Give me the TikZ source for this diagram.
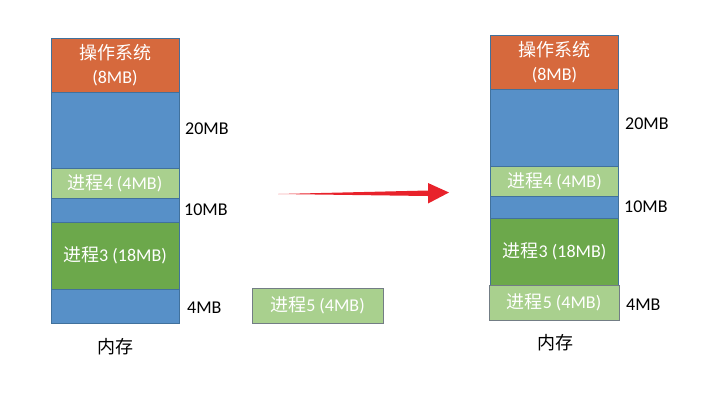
\documentclass[tikz,border=0pt]{standalone}
\usepackage{fontspec}
\setmainfont{Carlito}
\newfontfamily\cjk{Noto Sans CJK SC}
\newcommand{\zh}[1]{{\cjk #1}}
\usetikzlibrary{positioning}
\definecolor{osorange}{HTML}{D6693D}
\definecolor{freeblue}{HTML}{5790C8}
\definecolor{proclight}{HTML}{A9D08E}
\definecolor{procdark}{HTML}{6CA84B}
\definecolor{edgeblue}{HTML}{41719C}
\definecolor{arrowred}{HTML}{E8222B}
\tikzset{
  block/.style={draw=edgeblue, line width=0.8bp, inner sep=0pt, minimum width=128bp,
    text=white, align=center, font=\fontsize{18bp}{24bp}\selectfont},
  sizelabel/.style={anchor=west, inner sep=0pt, font=\fontsize{18bp}{22bp}\selectfont},
}
\begin{document}
\begin{tikzpicture}[x=1bp, y=-1bp]
  \useasboundingbox (0,0) rectangle (706,402);
  % Left memory
  \node[block, fill=osorange, minimum height=54bp] (os) at (115,65) {\zh{操作系统}\\(8MB)};
  \node[block, fill=freeblue, minimum height=76bp] (free1) at (115,130) {};
  \node[block, fill=proclight, minimum height=30bp] (p4) at (115,183) {\zh{进程}4 (4MB)};
  \node[block, fill=freeblue, minimum height=24bp] (free2) at (115,210) {};
  \node[block, fill=procdark, minimum height=67bp] (p3) at (115,255.5) {\zh{进程}3 (18MB)};
  \node[block, fill=freeblue, minimum height=34bp] (free3) at (115,306) {};
  \node[sizelabel] (l20) at (185,129) {20MB};
  \node[sizelabel] (l10) at (184,210) {10MB};
  \node[sizelabel] (l4) at (187,308) {4MB};
  \node[font=\fontsize{18bp}{22bp}\selectfont] (mem) at (115,347) {\zh{内存}};
  % Waiting process
  \node[block, draw=gray!80!edgeblue, fill=proclight, minimum width=131bp, minimum height=35bp] (p5) at (317.5,305.5) {\zh{进程}5 (4MB)};
  % Arrow
  \coordinate (atail) at (278,194);
  \coordinate (ahead) at (449,192.5);
  \fill[arrowred] (atail) -- ([shift={(150,-3.5)}]atail) -- ([shift={(150,-11)}]atail)
    -- (ahead) -- ([shift={(150,9.5)}]atail) -- ([shift={(150,2)}]atail) -- cycle;
  % Right memory
  \node[block, fill=osorange, minimum height=54bp] (osR) at (554.5,62) {\zh{操作系统}\\(8MB)};
  \node[block, fill=freeblue, minimum height=77bp] (free1R) at (554.5,127.5) {};
  \node[block, fill=proclight, minimum height=30bp] (p4R) at (554.5,181) {\zh{进程}4 (4MB)};
  \node[block, fill=freeblue, minimum height=22bp] (free2R) at (554.5,207) {};
  \node[block, fill=procdark, minimum height=67bp] (p3R) at (554.5,251.5) {\zh{进程}3 (18MB)};
  \node[block, draw=gray!80!edgeblue, fill=proclight, minimum width=130bp, minimum height=35bp] (p5R) at (554,302.5) {\zh{进程}5 (4MB)};
  \node[sizelabel] (l20R) at (625,124) {20MB};
  \node[sizelabel] (l10R) at (624,207) {10MB};
  \node[sizelabel] (l4R) at (626,305) {4MB};
  \node[font=\fontsize{18bp}{22bp}\selectfont] (memR) at (555,343) {\zh{内存}};
\end{tikzpicture}
\end{document}
